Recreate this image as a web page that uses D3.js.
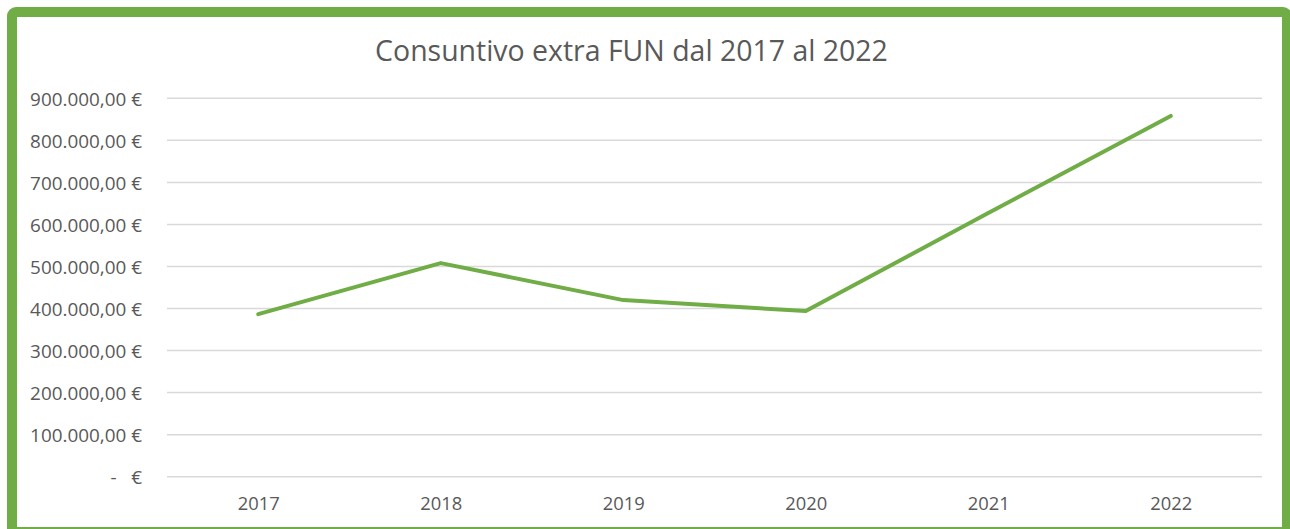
<!DOCTYPE html>
<html>
<head>
<meta charset="utf-8">
<script src="https://cdn.jsdelivr.net/npm/d3@7"></script>
<style>
  html, body { margin: 0; padding: 0; background: #ffffff; }
  svg { display: block; }
  text { font-family: "Open Sans", "Noto Sans", sans-serif; fill: #595959; }
</style>
</head>
<body>
<svg id="chart" width="1290" height="529"></svg>
<script>
const title = "Consuntivo extra FUN dal 2017 al 2022";
const years = ["2017", "2018", "2019", "2020", "2021", "2022"];
const values = [386500, 508000, 420000, 394000, 627000, 858000];
const yTicks = [0, 100000, 200000, 300000, 400000, 500000, 600000, 700000, 800000, 900000];

const W = 1290, H = 529;
const plot = { left: 167, right: 1262, top: 98.3, bottom: 476.7 };

const svg = d3.select("#chart");

// Outer green frame
svg.append("rect")
  .attr("x", 12).attr("y", 12)
  .attr("width", 1275).attr("height", 520)
  .attr("rx", 4)
  .attr("fill", "#ffffff")
  .attr("stroke", "#70ad47")
  .attr("stroke-width", 10);

const x = d3.scalePoint().domain(years).range([plot.left, plot.right]).padding(0.5);
const y = d3.scaleLinear().domain([0, 900000]).range([plot.bottom, plot.top]);

function fmt(v) {
  if (v === 0) return "-   €";
  const s = d3.format(",.2f")(v); // 900,000.00
  return s.replace(/,/g, "#").replace(".", ",").replace(/#/g, ".") + " €";
}

// Gridlines
svg.append("g")
  .selectAll("line")
  .data(yTicks)
  .join("line")
  .attr("x1", plot.left).attr("x2", plot.right)
  .attr("y1", d => y(d)).attr("y2", d => y(d))
  .attr("stroke", "#d9d9d9")
  .attr("stroke-width", 1.5);

// Y axis via d3.axisLeft, styled to look like Excel
const yAxis = svg.append("g")
  .attr("transform", `translate(${142 + 0},0)`)
  .call(d3.axisLeft(y).tickValues(yTicks).tickSize(0).tickPadding(0).tickFormat(fmt));
yAxis.select(".domain").remove();
yAxis.selectAll("text")
  .attr("x", 0)
  .attr("dy", "0.36em")
  .style("font-size", "18px")
  .style("white-space", "pre")
  .attr("fill", "#595959");

// X axis
const xAxis = svg.append("g")
  .attr("transform", `translate(0,${plot.bottom})`)
  .call(d3.axisBottom(x).tickSize(0).tickPadding(0));
xAxis.select(".domain").remove();
xAxis.selectAll("text")
  .attr("y", 33.5)
  .attr("dy", 0)
  .style("font-size", "18px")
  .attr("fill", "#595959");

// Line
svg.append("path")
  .datum(years.map((yr, i) => [yr, values[i]]))
  .attr("fill", "none")
  .attr("stroke", "#70ad47")
  .attr("stroke-width", 4)
  .attr("stroke-linejoin", "round")
  .attr("stroke-linecap", "round")
  .attr("d", d3.line().x(d => x(d[0])).y(d => y(d[1])));

// Title
const t = svg.append("text")
  .attr("x", 631.5).attr("y", 61)
  .attr("text-anchor", "middle")
  .style("font-size", "28px")
  .text(title);
// fit title width to reference (~513px)
const tw = t.node().getComputedTextLength();
if (tw > 0) t.style("font-size", (28 * 513 / tw).toFixed(2) + "px");

// fit y-label size to reference width (~112px for 900.000,00 €)
const yl = yAxis.selectAll("text").filter(d => d === 900000).node();
if (yl) {
  const w = yl.getComputedTextLength();
  if (w > 0) yAxis.selectAll("text").style("font-size", (18 * 112 / w).toFixed(2) + "px");
}
const xl = xAxis.select("text").node();
if (xl) {
  const w = xl.getComputedTextLength();
  if (w > 0) xAxis.selectAll("text").style("font-size", (18 * 42 / w).toFixed(2) + "px");
}
</script>
</body>
</html>
